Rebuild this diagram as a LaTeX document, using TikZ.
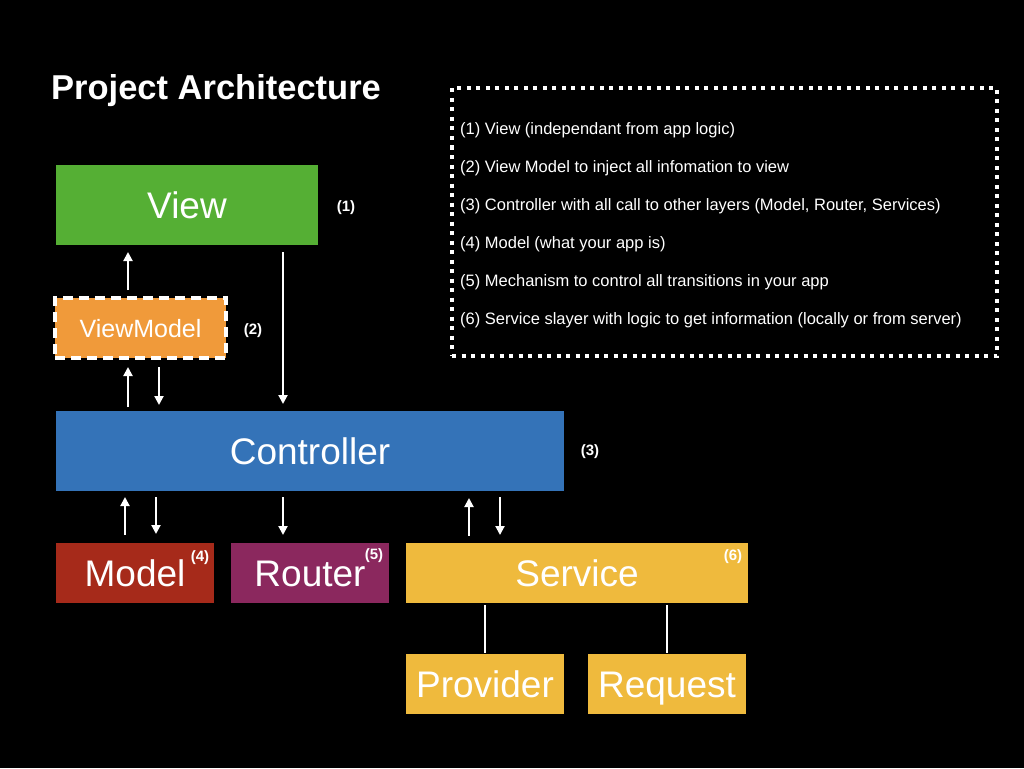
\documentclass[tikz,border=0pt]{standalone}
\usepackage{fontspec}
\setmainfont{Liberation Sans}
\usetikzlibrary{arrows.meta}
\usetikzlibrary{calc}

\definecolor{viewgreen}{RGB}{85,175,52}
\definecolor{vmorange}{RGB}{240,154,58}
\definecolor{ctrlblue}{RGB}{52,115,184}
\definecolor{modelred}{RGB}{166,42,26}
\definecolor{routerpurple}{RGB}{139,40,94}
\definecolor{serviceyellow}{RGB}{239,186,61}

\begin{document}
\begin{tikzpicture}[x=1pt, y=-1pt, >={Triangle[length=9pt, width=9pt]},
    block/.style={anchor=north west, inner sep=0pt, outer sep=0pt, text=white, text height=26.5pt, text depth=0pt, font=\fontsize{37}{40}\selectfont},
    tag/.style={text=white, font=\bfseries\fontsize{15}{18}\selectfont},
    flow/.style={->, white, line width=2pt},
    link/.style={white, line width=2pt}]
       % background
       \fill[black] (0,0) rectangle (1024,768);
       \useasboundingbox (0,0) rectangle (1024,768);

       % title
       \node[anchor=base west, inner sep=0pt, text=white, font=\bfseries\fontsize{34.5}{40}\selectfont] (title) at (51,99) {Project Architecture};

       % layers
       \node[block, fill=viewgreen, minimum width=262pt, minimum height=80pt] (view) at (56,165) {View};
       \node[block, fill=vmorange, draw=white, line width=3.5pt, dash pattern=on 10pt off 6pt, minimum width=171pt, minimum height=60pt, text height=18pt, font=\fontsize{25}{28}\selectfont] (vm) at (55,298) {ViewModel};
       \node[block, fill=ctrlblue, minimum width=508pt, minimum height=80pt] (ctrl) at (56,411) {Controller};
       \node[block, fill=modelred, minimum width=158pt, minimum height=60pt] (model) at (56,543) {Model};
       \node[block, fill=routerpurple, minimum width=158pt, minimum height=60pt] (router) at (231,543) {Router};
       \node[block, fill=serviceyellow, minimum width=342pt, minimum height=60pt] (service) at (406,543) {Service};
       \node[block, fill=serviceyellow, minimum width=158pt, minimum height=60pt] (provider) at (406,654) {Provider};
       \node[block, fill=serviceyellow, minimum width=158pt, minimum height=60pt] (request) at (588,654) {Request};

       % numbers
       \node[tag] (t1) at (346,208) {(1)};
       \node[tag] (t2) at (253,331) {(2)};
       \node[tag] (t3) at (590,452) {(3)};
       \node[tag] (t4) at (200,558) {(4)};
       \node[tag] (t5) at (374,556) {(5)};
       \node[tag] (t6) at (733,557) {(6)};

       % arrow columns
       \coordinate (c1) at (128,0);
       \coordinate (c2) at (159,0);
       \coordinate (c3) at (283,0);
       \coordinate (c4) at (125,0);
       \coordinate (c5) at (156,0);
       \coordinate (c6) at (469,0);
       \coordinate (c7) at (500,0);
       \coordinate (c8) at (485,0);
       \coordinate (c9) at (667,0);

       % view - viewmodel - controller
       \draw[flow] ($(vm.north -| c1)+(0,-8)$) -- ($(view.south -| c1)+(0,7)$);
       \draw[flow] ($(ctrl.north -| c1)+(0,-4)$) -- ($(vm.south -| c1)+(0,9)$);
       \draw[flow] ($(vm.south -| c2)+(0,9)$) -- ($(ctrl.north -| c2)+(0,-6)$);
       \draw[flow] ($(view.south -| c3)+(0,7)$) -- ($(ctrl.north -| c3)+(0,-7)$);

       % controller - model, router, service
       \draw[flow] ($(model.north -| c4)+(0,-8)$) -- ($(ctrl.south -| c4)+(0,6)$);
       \draw[flow] ($(ctrl.south -| c5)+(0,6)$) -- ($(model.north -| c5)+(0,-9)$);
       \draw[flow] ($(ctrl.south -| c3)+(0,6)$) -- ($(router.north -| c3)+(0,-8)$);
       \draw[flow] ($(service.north -| c6)+(0,-7)$) -- ($(ctrl.south -| c6)+(0,7)$);
       \draw[flow] ($(ctrl.south -| c7)+(0,6)$) -- ($(service.north -| c7)+(0,-8)$);

       % service parts
       \draw[link] ($(service.south -| c8)+(0,2)$) -- ($(provider.north -| c8)+(0,-1)$);
       \draw[link] ($(service.south -| c9)+(0,2)$) -- ($(request.north -| c9)+(0,-1)$);

       % legend
       \node[draw=white, line width=4pt, dash pattern=on 4pt off 5.5pt, anchor=north west, inner sep=0pt, outer sep=0pt, minimum width=545pt, minimum height=268pt] (legend) at (452,88) {};
       \foreach \t [count=\i] in {{(1) View (independant from app logic)},
           {(2) View Model to inject all infomation to view},
           {(3) Controller with all call to other layers (Model, Router, Services)},
           {(4) Model (what your app is)},
           {(5) Mechanism to control all transitions in your app},
           {(6) Service slayer with logic to get information (locally or from server)}}{
       \node[anchor=base west, inner sep=0pt, text=white, font=\fontsize{16.5}{19}\selectfont] (leg\i) at ($(legend.north west)+(8,8+38*\i)$) {\t};
       }
\end{tikzpicture}
\end{document}
